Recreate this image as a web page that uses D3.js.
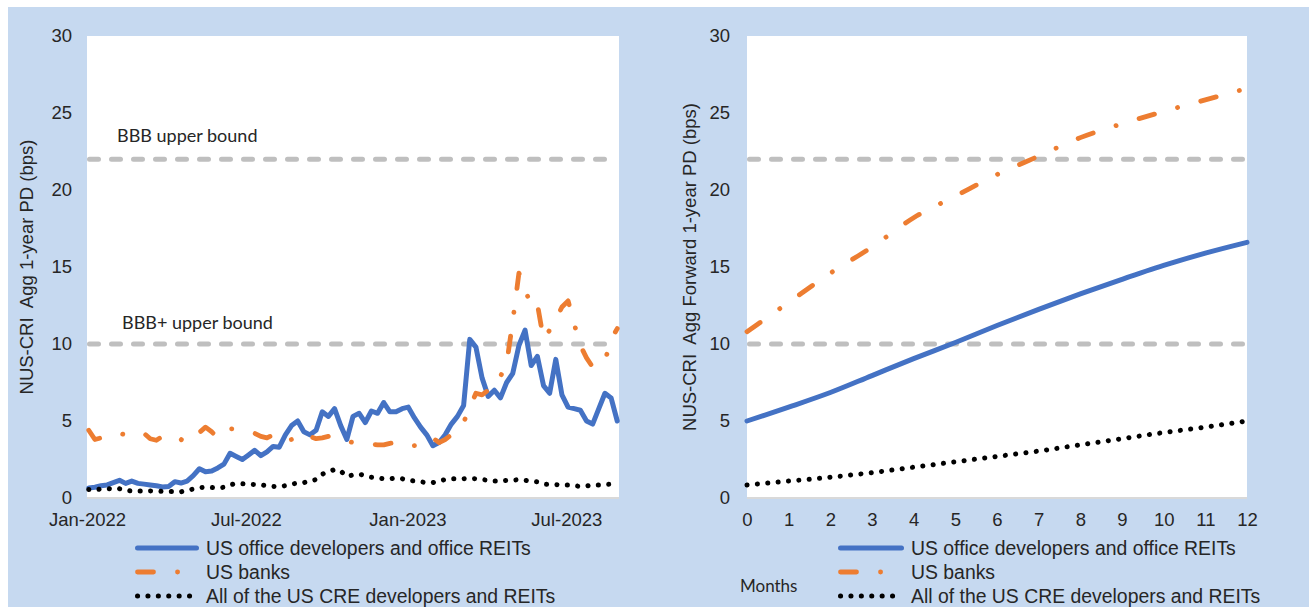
<!DOCTYPE html>
<html>
<head>
<meta charset="utf-8">
<title>NUS-CRI PD</title>
<script src="https://cdnjs.cloudflare.com/ajax/libs/d3/7.8.5/d3.min.js"></script>
<style>
    body { margin: 0; background: #fff; }
    svg { display: block; }
    .tick text { font-family: "Liberation Sans", Arial, sans-serif; font-size: 18.5px; fill: #262626; }
    .title { font-family: "Liberation Sans", Arial, sans-serif; font-size: 18.5px; fill: #262626; }
    .legend text { font-family: "Liberation Sans", Arial, sans-serif; font-size: 19.4px; fill: #262626; }
    .note { font-family: Lato, "Open Sans", sans-serif; font-size: 18px; fill: #262626; }
</style>
</head>
<body>
<svg width="1309" height="607"></svg>
<script>
// weekly observations, first week starting 3 Jan 2022
const weekStart = new Date(2022, 0, 3);
const officeHist = [0.65,0.7,0.8,0.85,1.0,1.15,0.95,1.1,0.95,0.9,0.85,0.8,0.72,0.75,1.06,0.97,1.1,1.45,1.9,1.7,
    1.75,1.95,2.2,2.9,2.7,2.5,2.8,3.1,2.75,3.0,3.35,3.3,4.1,4.7,5.0,4.3,4.1,4.4,5.6,5.3,
    5.8,4.7,3.8,5.3,5.5,4.9,5.65,5.5,6.2,5.6,5.6,5.8,5.9,5.2,4.6,4.1,3.4,3.6,4.1,4.8,
    5.3,6.0,10.3,9.8,7.8,6.6,7.0,6.5,7.5,8.1,9.9,10.9,8.6,9.2,7.3,6.8,9.0,6.7,5.9,5.8,
    5.7,5.0,4.8,5.8,6.8,6.5,5.0];
const banksHist = [4.4,3.8,3.9,4.1,4.15,4.2,4.1,4.1,4.05,4.2,3.85,3.75,4.0,4.1,3.9,3.75,4.3,4.2,4.25,4.6,
    4.3,3.9,4.3,4.5,4.45,4.4,4.25,4.2,4.0,3.9,4.1,4.05,3.7,3.8,4.1,4.2,4.0,3.85,3.9,4.0,
    3.95,3.9,3.7,3.6,3.55,3.5,3.5,3.45,3.45,3.55,3.6,3.45,3.35,3.4,3.45,3.8,3.9,3.6,3.8,4.1,
    4.5,4.9,5.9,6.8,6.7,7.0,7.8,7.9,8.7,11.5,14.6,13.6,12.4,12.6,10.3,10.9,11.6,12.4,12.8,11.3,
    9.9,9.1,8.5,8.6,8.9,10.3,11.0];
const allHist = [0.55,0.5,0.6,0.62,0.55,0.6,0.5,0.45,0.45,0.45,0.46,0.45,0.43,0.42,0.42,0.4,0.5,0.58,0.68,0.7,
    0.68,0.65,0.7,0.85,0.95,0.92,0.9,0.88,0.85,0.8,0.75,0.73,0.8,0.9,0.97,1.0,1.1,1.2,1.55,1.7,
    1.85,1.75,1.4,1.5,1.55,1.45,1.35,1.3,1.25,1.25,1.3,1.25,1.15,1.1,1.05,1.0,1.0,1.1,1.2,1.25,
    1.25,1.25,1.27,1.25,1.2,1.15,1.1,1.1,1.15,1.15,1.2,1.15,1.1,1.05,0.9,0.88,0.87,0.85,0.85,0.8,
    0.75,0.78,0.85,0.85,0.88,0.9,0.93];
const histTicks = [new Date(2022, 0, 1), new Date(2022, 6, 1), new Date(2023, 0, 1), new Date(2023, 6, 1)];

const months = [0,1,2,3,4,5,6,7,8,9,10,11,12];
const officeFwd = [5.0,5.9,6.85,7.95,9.05,10.1,11.2,12.25,13.25,14.2,15.1,15.9,16.6];
const banksFwd = [10.8,12.7,14.6,16.3,18.2,19.6,21.0,22.2,23.4,24.3,25.1,25.85,26.6];
const allFwd = [0.85,1.1,1.35,1.65,2.0,2.35,2.7,3.05,3.45,3.85,4.25,4.6,5.0];

const yTicks = [0,5,10,15,20,25,30];
const bounds = [22, 10];
const seriesNames = ["US office developers and office REITs", "US banks", "All of the US CRE developers and REITs"];

const styles = [
    { color: "#4472c4", width: 5, dash: null },
    { color: "#ed7d31", width: 4.8, dash: "16,24,0.1,24" },
    { color: "#000000", width: 5, dash: "0.1,10.3" }
];

const svg = d3.select("svg");
svg.append("rect").attr("x", 8).attr("y", 7).attr("width", 1301).attr("height", 600).attr("fill", "#c6d9f0");

const y = d3.scaleLinear().domain([0, 30]).range([498, 36]);

function drawLines(g, x, xs, data, curve) {
    data.forEach((vals, k) => {
        const st = styles[k];
        const line = d3.line().x((d, i) => x(xs[i])).y(d => y(d)).curve(curve);
        const p = g.append("path").datum(vals).attr("d", line)
            .attr("fill", "none").attr("stroke", st.color).attr("stroke-width", st.width)
            .attr("stroke-linejoin", "round").attr("stroke-linecap", "round");
        if (st.dash) p.attr("stroke-dasharray", st.dash);
    });
}

function panel(opt) {
    const g = svg.append("g");
    const [x0, x1] = opt.x.range();
    g.append("rect").attr("x", x0).attr("y", 36).attr("width", x1 - x0).attr("height", 462).attr("fill", "#fff");
    g.append("line").attr("x1", x0).attr("x2", x1).attr("y1", 498).attr("y2", 498)
        .attr("stroke", "#d9d9d9").attr("stroke-width", 2);

    bounds.forEach(b => {
        g.append("line").attr("x1", x0 + 2.5).attr("x2", x1 - 3).attr("y1", y(b)).attr("y2", y(b))
            .attr("stroke", "#bfbfbf").attr("stroke-width", 5)
            .attr("stroke-dasharray", "9,13").attr("stroke-linecap", "round");
    });

    const ya = g.append("g").attr("transform", `translate(${x0},0)`)
        .call(d3.axisLeft(y).tickValues(yTicks).tickSize(0).tickPadding(opt.yPad));
    ya.select(".domain").remove();

    const xa = g.append("g").attr("transform", "translate(0,498)").call(opt.xAxis);
    xa.select(".domain").remove();

    g.append("text").attr("class", "title")
        .attr("transform", `translate(${opt.titleX},267) rotate(-90)`)
        .attr("text-anchor", "middle").attr("xml:space", "preserve").text(opt.title);

    drawLines(g, opt.x, opt.xs, opt.data, opt.curve);

    const lg = g.append("g").attr("class", "legend");
    seriesNames.forEach((name, k) => {
        const st = styles[k];
        const ly = 548 + k * 24;
        const l = lg.append("line").attr("x1", opt.legX + 2.5).attr("x2", opt.legX + opt.legW - 2.5)
            .attr("y1", ly).attr("y2", ly).attr("stroke", st.color).attr("stroke-width", st.width)
            .attr("stroke-linecap", "round");
        if (st.dash) l.attr("stroke-dasharray", st.dash);
        lg.append("text").attr("x", opt.legX + opt.legW + 7).attr("y", ly).attr("dy", "0.36em").text(name);
    });
    return g;
}

// left: history
const histDates = officeHist.map((d, i) => d3.timeDay.offset(weekStart, 7 * i));
const xt = d3.scaleTime().domain([new Date(2022, 0, 1), new Date(2023, 7, 30)]).range([87, 619]);
const left = panel({
    x: xt, xs: histDates, data: [officeHist, banksHist, allHist], curve: d3.curveLinear,
    xAxis: d3.axisBottom(xt).tickValues(histTicks).tickFormat(d3.timeFormat("%b-%Y")).tickSize(0).tickPadding(15),
    yPad: 15, titleX: 33, title: "NUS-CRI  Agg 1-year PD (bps)", legX: 135, legW: 64
});
left.append("text").attr("class", "note").attr("x", 117).attr("y", 142).text("BBB upper bound");
left.append("text").attr("class", "note").attr("x", 122).attr("y", 329).text("BBB+ upper bound");

// right: forward
const xm = d3.scaleLinear().domain([0, 12]).range([747, 1247]);
const right = panel({
    x: xm, xs: months, data: [officeFwd, banksFwd, allFwd], curve: d3.curveMonotoneX,
    xAxis: d3.axisBottom(xm).tickValues(months).tickSize(0).tickPadding(15),
    yPad: 17, titleX: 696, title: "NUS-CRI  Agg Forward 1-year PD (bps)", legX: 838, legW: 66
});
right.append("text").attr("class", "note").attr("x", 740).attr("y", 586).attr("dy", "0.35em")
    .style("font-size", "17px").text("Months");
</script>
</body>
</html>
